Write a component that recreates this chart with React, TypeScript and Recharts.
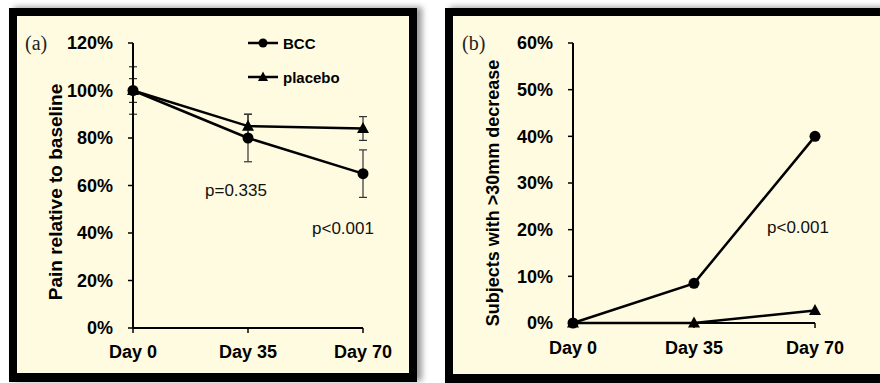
import { ErrorBar, Label, Legend, Line, LineChart, ReferenceDot, XAxis, YAxis } from "recharts";

const days = ["Day 0", "Day 35", "Day 70"];

// panel (a): pain relative to baseline, %
const painBcc = [100, 80, 65];
const painBccErr = [10, 10, 10];
const painPlacebo = [100, 85, 84];
const painPlaceboErr = [5, 5, 5];
const painTicks = [0, 20, 40, 60, 80, 100, 120];

// panel (b): subjects with >30mm decrease, %
const respBcc = [0, 8.5, 40];
const respPlacebo = [0, 0, 2.7];
const respTicks = [0, 10, 20, 30, 40, 50, 60];

const painRows = days.map((day, i) => ({
  day,
  bcc: painBcc[i],
  bccErr: painBccErr[i],
  placebo: painPlacebo[i],
  placeboErr: painPlaceboErr[i],
}));
const respRows = days.map((day, i) => ({ day, bcc: respBcc[i], placebo: respPlacebo[i] }));

const SANS = '"Liberation Sans", Arial, sans-serif';
const SERIF = '"Liberation Serif", "DejaVu Serif", serif';
const CREAM = "#fffbe1";
const tickStyle = { fill: "#000", fontSize: 18, fontWeight: 700, fontFamily: SANS };
const axisLine = { stroke: "#000", strokeWidth: 2 };
const tickLine = { stroke: "#000", strokeWidth: 1.5 };

function CircleDot({ cx, cy }: any) {
  if (cx == null || cy == null) return null;
  return <circle cx={cx} cy={cy} r={5.5} fill="#000" />;
}

function TriangleDot({ cx, cy }: any) {
  if (cx == null || cy == null) return null;
  return <polygon points={`${cx},${cy - 6.5} ${cx + 6},${cy + 4.5} ${cx - 6},${cy + 4.5}`} fill="#000" />;
}

const circleDot = (p: any) => <CircleDot key={`c${p.index}`} cx={p.cx} cy={p.cy} />;
const triangleDot = (p: any) => <TriangleDot key={`t${p.index}`} cx={p.cx} cy={p.cy} />;

function AxisTitle({ text, tx, ty, size }: any) {
  return (
    <text
      x={tx}
      y={ty}
      transform={`rotate(-90, ${tx}, ${ty})`}
      textAnchor="middle"
      dominantBaseline="central"
      fill="#000"
      fontSize={size}
      fontWeight={700}
      fontFamily={SANS}
    >
      {text}
    </text>
  );
}

function LegendBox({ payload }: any) {
  return (
    <div style={{ display: "flex", flexDirection: "column", gap: 14, fontFamily: SANS, fontWeight: 700, fontSize: 15 }}>
      {(payload ?? []).map((entry: any) => (
        <div key={entry.value} style={{ display: "flex", alignItems: "center", height: 20 }}>
          <svg width={30} height={14}>
            <line x1={0} y1={7} x2={30} y2={7} stroke="#000" strokeWidth={2.5} />
            {entry.dataKey === "bcc" ? (
              <circle cx={15} cy={7} r={4.5} fill="#000" />
            ) : (
              <polygon points="15,1.5 20,11 10,11" fill="#000" />
            )}
          </svg>
          <span style={{ marginLeft: 5, color: "#000" }}>{entry.value}</span>
        </div>
      ))}
    </div>
  );
}

const pStyle = { fill: "#111", fontSize: 17, fontFamily: SANS };

function Frame({ left, width, height }: { left: number; width: number; height: number }) {
  return (
    <div
      style={{
        position: "absolute",
        left,
        top: 8,
        width,
        height,
        boxSizing: "border-box",
        border: "8px solid #000",
        borderBottomWidth: 9,
        background: CREAM,
        boxShadow: "5px -1px 6px rgba(0,0,0,0.4)",
      }}
    />
  );
}

export default function App() {
  return (
    <div style={{ position: "absolute", left: 0, top: 0, width: 880, height: 383, overflow: "hidden", background: "#fff" }}>
      <Frame left={9} width={408} height={374} />
      <Frame left={445} width={460} height={375} />

      <div style={{ position: "absolute", left: 0, top: 0 }}>
        <LineChart width={440} height={383} data={painRows} margin={{ top: 43, right: 77, bottom: 25, left: 0 }}>
          <XAxis
            dataKey="day"
            tick={tickStyle}
            axisLine={axisLine}
            tickLine={tickLine}
            tickSize={5}
            tickMargin={12}
            height={30}
          />
          <YAxis
            domain={[0, 120]}
            ticks={painTicks}
            tickFormatter={(v) => `${v}%`}
            tick={tickStyle}
            axisLine={axisLine}
            tickLine={tickLine}
            tickSize={5}
            tickMargin={15}
            width={133}
            label={<AxisTitle text="Pain relative to baseline" tx={55} ty={192} size={19} />}
          />
          <Legend
            content={<LegendBox />}
            layout="horizontal"
            verticalAlign="middle"
            align="center"
            wrapperStyle={{ left: 248, top: 33, width: "auto" }}
          />
          <Line dataKey="bcc" name="BCC" stroke="#000" strokeWidth={2.5} dot={circleDot} isAnimationActive={false}>
            <ErrorBar dataKey="bccErr" width={4} stroke="#333" strokeWidth={1.2} direction="y" isAnimationActive={false} />
          </Line>
          <Line dataKey="placebo" name="placebo" stroke="#000" strokeWidth={2.5} dot={triangleDot} isAnimationActive={false}>
            <ErrorBar dataKey="placeboErr" width={4} stroke="#333" strokeWidth={1.2} direction="y" isAnimationActive={false} />
          </Line>
          <ReferenceDot x="Day 35" y={58} r={0} stroke="none" fill="none">
            <Label value="p=0.335" position="center" dx={-12} {...pStyle} />
          </ReferenceDot>
          <ReferenceDot x="Day 70" y={42} r={0} stroke="none" fill="none">
            <Label value="p<0.001" position="center" dx={-20} {...pStyle} />
          </ReferenceDot>
          <text x={25} y={50} fill="#222" fontSize={20} fontFamily={SERIF}>
            (a)
          </text>
        </LineChart>
      </div>

      <div style={{ position: "absolute", left: 440, top: 0 }}>
        <LineChart width={440} height={383} data={respRows} margin={{ top: 43, right: 65, bottom: 30, left: 0 }}>
          <XAxis
            dataKey="day"
            tick={tickStyle}
            axisLine={axisLine}
            tickLine={tickLine}
            tickSize={5}
            tickMargin={13}
            height={30}
          />
          <YAxis
            domain={[0, 60]}
            ticks={respTicks}
            tickFormatter={(v) => `${v}%`}
            tick={tickStyle}
            axisLine={axisLine}
            tickLine={tickLine}
            tickSize={5}
            tickMargin={15}
            width={133}
            label={<AxisTitle text="Subjects with >30mm decrease" tx={53} ty={193} size={18} />}
          />
          <Line dataKey="bcc" name="BCC" stroke="#000" strokeWidth={2.5} dot={circleDot} isAnimationActive={false} />
          <Line dataKey="placebo" name="placebo" stroke="#000" strokeWidth={2.5} dot={triangleDot} isAnimationActive={false} />
          <ReferenceDot x="Day 70" y={20.5} r={0} stroke="none" fill="none">
            <Label value="p<0.001" position="center" dx={-17} {...pStyle} />
          </ReferenceDot>
          <text x={22} y={50} fill="#222" fontSize={20} fontFamily={SERIF}>
            (b)
          </text>
        </LineChart>
      </div>
    </div>
  );
}
